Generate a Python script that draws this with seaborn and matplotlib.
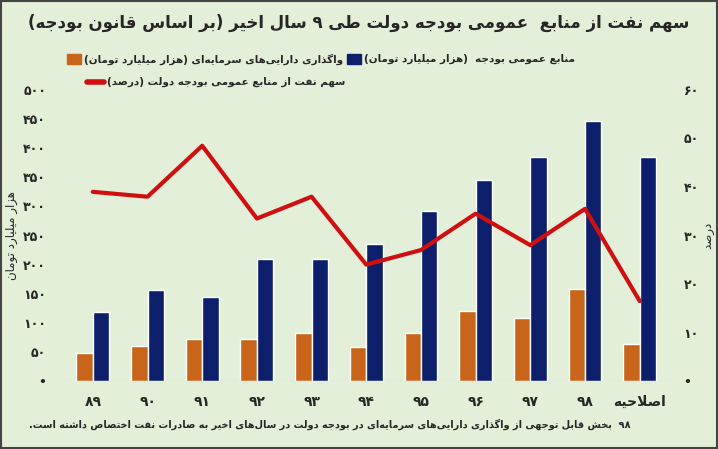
import numpy as np
import pandas as pd
import matplotlib
matplotlib.use("Agg")
import matplotlib.pyplot as plt
import seaborn as sns
from matplotlib.patches import Rectangle
from matplotlib.lines import Line2D

# --- Data ---
years = ["۸۹", "۹۰", "۹۱", "۹۲", "۹۳", "۹۴", "۹۵", "۹۶", "۹۷", "۹۸", "اصلاحیه"]
general_resources = [48, 60, 72, 72, 82, 58, 82, 120, 108, 158, 64]
asset_disposal = [118, 156, 144, 210, 210, 235, 292, 345, 385, 447, 385]
oil_share = [39, 38, 48.5, 33.5, 38, 24, 27, 34.5, 28, 35.5, 16.5]

left_ticks = [0, 50, 100, 150, 200, 250, 300, 350, 400, 450, 500]
right_ticks = [0, 10, 20, 30, 40, 50, 60]

# --- simple Persian shaping (presentation forms) + visual reordering ---
FORMS = {  # isolated, final, initial, medial
    'ا': (0xFE8D, 0xFE8E, None, None), 'آ': (0xFE81, 0xFE82, None, None),
    'ب': (0xFE8F, 0xFE90, 0xFE91, 0xFE92), 'پ': (0xFB56, 0xFB57, 0xFB58, 0xFB59),
    'ت': (0xFE95, 0xFE96, 0xFE97, 0xFE98), 'ث': (0xFE99, 0xFE9A, 0xFE9B, 0xFE9C),
    'ج': (0xFE9D, 0xFE9E, 0xFE9F, 0xFEA0), 'چ': (0xFB7A, 0xFB7B, 0xFB7C, 0xFB7D),
    'ح': (0xFEA1, 0xFEA2, 0xFEA3, 0xFEA4), 'خ': (0xFEA5, 0xFEA6, 0xFEA7, 0xFEA8),
    'د': (0xFEA9, 0xFEAA, None, None), 'ذ': (0xFEAB, 0xFEAC, None, None),
    'ر': (0xFEAD, 0xFEAE, None, None), 'ز': (0xFEAF, 0xFEB0, None, None),
    'ژ': (0xFB8A, 0xFB8B, None, None),
    'س': (0xFEB1, 0xFEB2, 0xFEB3, 0xFEB4), 'ش': (0xFEB5, 0xFEB6, 0xFEB7, 0xFEB8),
    'ص': (0xFEB9, 0xFEBA, 0xFEBB, 0xFEBC), 'ض': (0xFEBD, 0xFEBE, 0xFEBF, 0xFEC0),
    'ط': (0xFEC1, 0xFEC2, 0xFEC3, 0xFEC4), 'ظ': (0xFEC5, 0xFEC6, 0xFEC7, 0xFEC8),
    'ع': (0xFEC9, 0xFECA, 0xFECB, 0xFECC), 'غ': (0xFECD, 0xFECE, 0xFECF, 0xFED0),
    'ف': (0xFED1, 0xFED2, 0xFED3, 0xFED4), 'ق': (0xFED5, 0xFED6, 0xFED7, 0xFED8),
    'ک': (0xFB8E, 0xFB8F, 0xFB90, 0xFB91), 'گ': (0xFB92, 0xFB93, 0xFB94, 0xFB95),
    'ل': (0xFEDD, 0xFEDE, 0xFEDF, 0xFEE0), 'م': (0xFEE1, 0xFEE2, 0xFEE3, 0xFEE4),
    'ن': (0xFEE5, 0xFEE6, 0xFEE7, 0xFEE8), 'و': (0xFEED, 0xFEEE, None, None),
    'ه': (0xFEE9, 0xFEEA, 0xFEEB, 0xFEEC), 'ی': (0xFBFC, 0xFBFD, 0xFBFE, 0xFBFF),
    'ئ': (0xFE89, 0xFE8A, 0xFE8B, 0xFE8C),
}


def shape(text):
    chars = list(text)
    out = []
    i = 0
    n = len(chars)

    def joins_left(c):  # can connect to the next letter
        return c in FORMS and FORMS[c][2] is not None

    while i < n:
        c = chars[i]
        if c not in FORMS:
            if c != '\u200c':
                out.append(c)
            i += 1
            continue
        prev = chars[i - 1] if i > 0 else ''
        nxt = chars[i + 1] if i + 1 < n else ''
        from_prev = joins_left(prev)
        # lam-alef ligature
        if c == 'ل' and nxt == 'ا':
            out.append(chr(0xFEFC if from_prev else 0xFEFB))
            i += 2
            continue
        to_next = joins_left(c) and nxt in FORMS
        f = FORMS[c]
        if from_prev and to_next:
            out.append(chr(f[3]))
        elif from_prev:
            out.append(chr(f[1]))
        elif to_next:
            out.append(chr(f[2]))
        else:
            out.append(chr(f[0]))
        i += 1
    return ''.join(out)


def fa(text):
    s = shape(text)
    tokens = []
    for ch in s:
        if ch.isdigit() and tokens and tokens[-1][0].isdigit():
            tokens[-1] += ch
        else:
            tokens.append(ch)
    tokens.reverse()
    mirror = {'(': ')', ')': '('}
    return ''.join(mirror.get(t, t) for t in tokens)


def fa_num(v):
    return fa(str(v).translate(str.maketrans("0123456789", "۰۱۲۳۴۵۶۷۸۹"))) if v else "•"


sns.set_theme(style="white")
plt.rcParams['font.family'] = ['DejaVu Sans', 'Noto Sans']
plt.rcParams['font.weight'] = 'bold'

bg = "#e3efd9"
orange = "#c8651b"
navy = "#0d1f6b"
red = "#d01010"

df = pd.DataFrame({
    "year": years * 2,
    "value": general_resources + asset_disposal,
    "series": ["general"] * len(years) + ["assets"] * len(years),
})

W, H = 718, 449
fig = plt.figure(figsize=(7.18, 4.49), dpi=100, facecolor=bg)
ax = fig.add_axes([0.0836, 0.1514, 0.853, 0.6482])
ax.set_facecolor(bg)

sns.barplot(data=df, x="year", y="value", hue="series", order=years,
            hue_order=["general", "assets"], palette=[orange, navy],
            width=0.6, dodge=True, ax=ax, legend=False, saturation=1)

ax.set_ylim(0, 500)
ax.set_yticks(left_ticks)
ax.set_yticklabels([fa_num(v) for v in left_ticks], fontsize=9)
ax.set_xticks(range(len(years)))
ax.set_xticklabels([fa(y) for y in years], fontsize=10)
ax.set_xlabel("")
ax.set_ylabel(fa("هزار میلیارد تومان"), fontsize=8.5, labelpad=4)
ax.tick_params(axis="both", length=0, pad=10)
for sp in ax.spines.values():
    sp.set_visible(False)
ax.axhline(0, color="#bbbbbb", lw=0.8)

ax2 = ax.twinx()
sns.lineplot(x=list(range(len(years))), y=oil_share, ax=ax2, color=red, lw=3)
ax2.set_ylim(0, 60)
ax2.set_yticks(right_ticks)
ax2.set_yticklabels([fa_num(v) for v in right_ticks], fontsize=9)
ax2.set_ylabel(fa("درصد"), fontsize=8.5, labelpad=2)
ax2.tick_params(axis="y", length=0, pad=8)
for sp in ax2.spines.values():
    sp.set_visible(False)
ax.set_xlim(-0.6, len(years) - 0.4)

fig.text(0.5, 1 - 23 / H, fa("سهم نفت از منابع  عمومی بودجه دولت طی ۹ سال اخیر (بر اساس قانون بودجه)"),
         ha="center", va="center", fontsize=12)

# legend laid out right-to-left
r = fig.canvas.get_renderer()


def legend_item(x_right, y, label, handle):
    t = fig.text(x_right / W, 1 - y / H, fa(label), ha="right", va="center", fontsize=7.5)
    bb = t.get_window_extent(r)
    x0 = bb.x0 - 3
    if handle == "line":
        fig.lines.append(Line2D([(x0 - 17) / W, x0 / W], [1 - y / H] * 2,
                                transform=fig.transFigure, color=red, lw=4,
                                solid_capstyle="round"))
    else:
        fig.patches.append(Rectangle(((x0 - 14) / W, 1 - (y + 5) / H), 14 / W, 10 / H,
                                     transform=fig.transFigure, color=handle))
    return x0 - 18


xn = legend_item(575, 59, "منابع عمومی بودجه  (هزار میلیارد تومان)", navy)
legend_item(xn, 59, "واگذاری دارایی‌های سرمایه‌ای (هزار میلیارد تومان)", orange)
legend_item(345, 82, "سهم نفت از منابع عمومی بودجه دولت (درصد)", "line")

fig.text(0.46, 1 - 424 / H,
         fa("۹۸  بخش قابل توجهی از واگذاری دارایی‌های سرمایه‌ای در بودجه دولت در سال‌های اخیر به صادرات نفت اختصاص داشته است."),
         ha="center", va="center", fontsize=7)

fig.patches.append(Rectangle((0.002, 0.002), 0.996, 0.996, transform=fig.transFigure,
                             fill=False, ec="#444444", lw=1.5))

fig.savefig("out.png", dpi=100, facecolor=bg)
